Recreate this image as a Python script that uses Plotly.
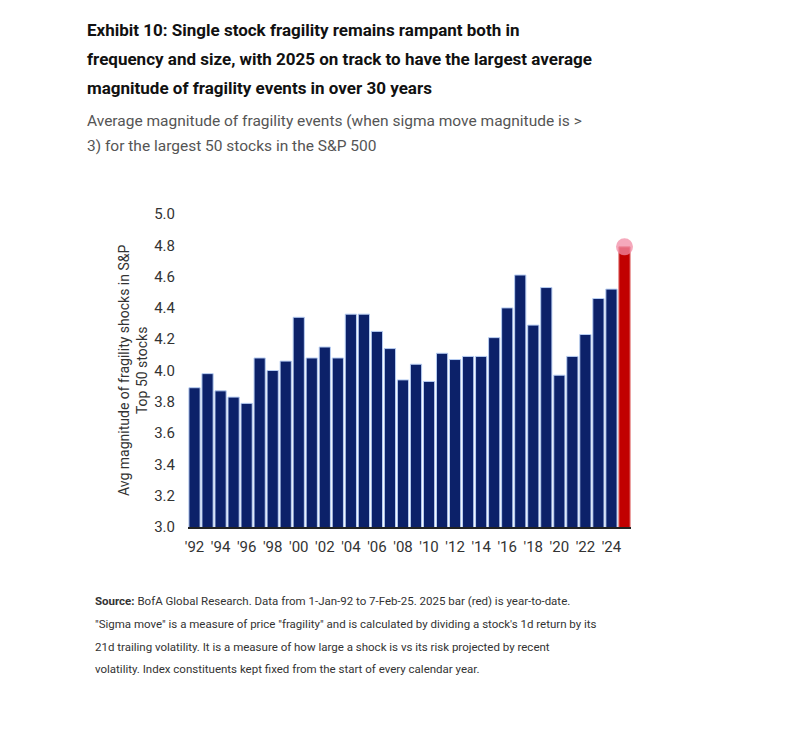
import plotly.graph_objects as go

years = [1992, 1993, 1994, 1995, 1996, 1997, 1998, 1999, 2000, 2001,
         2002, 2003, 2004, 2005, 2006, 2007, 2008, 2009, 2010, 2011,
         2012, 2013, 2014, 2015, 2016, 2017, 2018, 2019, 2020, 2021,
         2022, 2023, 2024, 2025]
avg_magnitude = [3.89, 3.98, 3.87, 3.83, 3.79, 4.08, 4.00, 4.06, 4.34, 4.08,
                 4.15, 4.08, 4.36, 4.36, 4.25, 4.14, 3.94, 4.04, 3.93, 4.11,
                 4.07, 4.09, 4.09, 4.21, 4.40, 4.61, 4.29, 4.53, 3.97, 4.09,
                 4.23, 4.46, 4.52, 4.79]
tick_years = [1992, 1994, 1996, 1998, 2000, 2002, 2004, 2006, 2008,
              2010, 2012, 2014, 2016, 2018, 2020, 2022, 2024]
tick_labels = ["'92", "'94", "'96", "'98", "'00", "'02", "'04", "'06", "'08",
               "'10", "'12", "'14", "'16", "'18", "'20", "'22", "'24"]
ytd_year = 2025

title_lines = [
    "<b>Exhibit 10: Single stock fragility remains rampant both in</b>",
    "<b>frequency and size, with 2025 on track to have the largest average</b>",
    "<b>magnitude of fragility events in over 30 years</b>",
]
subtitle_lines = [
    "Average magnitude of fragility events (when sigma move magnitude is >",
    "3) for the largest 50 stocks in the S&P 500",
]
source_lines = [
    "<b>Source:</b> BofA Global Research. Data from 1-Jan-92 to 7-Feb-25. 2025 bar (red) is year-to-date.",
    "\"Sigma move\" is a measure of price \"fragility\" and is calculated by dividing a stock's 1d return by its",
    "21d trailing volatility. It is a measure of how large a shock is vs its risk projected by recent",
    "volatility. Index constituents kept fixed from the start of every calendar year.",
]

NAVY = "#0c2169"
RED = "#c10000"
FONT = "Roboto, Arial, sans-serif"

# page has an 8px body margin; positions below are screen pixels
OFF = 8
L, R, T, B = 188, 631, 214, 527
W, H = 794, 730


def px(x, y):
    """screen pixel position -> paper coords"""
    return (x - L) / (R - L), (B - y) / (B - T)


bar_colors = [RED if y == ytd_year else NAVY for y in years]
line_colors = ["#e07070" if y == ytd_year else "#b7cdf2" for y in years]

fig = go.Figure()
fig.add_trace(go.Bar(
    x=years,
    y=avg_magnitude,
    marker=dict(color=bar_colors, line=dict(color=line_colors, width=1)),
    width=0.86,
    base=0,
))
fig.add_trace(go.Scatter(
    x=[years[-1]],
    y=[avg_magnitude[-1]],
    mode="markers",
    marker=dict(size=17, color="rgba(242,140,165,0.75)"),
    cliponaxis=False,
))

fig.update_layout(
    width=W, height=H,
    margin=dict(l=L - OFF, r=W - (R - OFF), t=T - OFF, b=H - (B - OFF)),
    paper_bgcolor="white", plot_bgcolor="white",
    showlegend=False,
    font=dict(family=FONT, color="#333333"),
    xaxis=dict(
        range=[1991.5, 2025.5],
        tickmode="array", tickvals=tick_years, ticktext=tick_labels,
        tickfont=dict(size=15, color="#333333"),
        showline=True, linecolor="#222222", linewidth=1.5,
        showgrid=False, zeroline=False, ticks="",
        ticklabelstandoff=5,
    ),
    yaxis=dict(
        range=[3.0, 5.0], dtick=0.2, tickformat=".1f",
        tickfont=dict(size=15, color="#333333"),
        showgrid=False, zeroline=False, showline=False, ticks="",
        ticklabelstandoff=12,
    ),
)


def add_line(text, x, y, size, color):
    px_x, px_y = px(x, y)
    fig.add_annotation(
        x=px_x, y=px_y, xref="paper", yref="paper",
        xanchor="left", yanchor="middle", align="left", showarrow=False,
        text=text, font=dict(size=size, color=color, family=FONT),
    )


for text, y in zip(title_lines, [30, 59, 88]):
    add_line(text, 85, y, 17, "#111111")
for text, y in zip(subtitle_lines, [121, 146]):
    add_line(text, 85, y, 15.5, "#555555")
for text, y in zip(source_lines, [601, 624, 647, 669]):
    add_line(text, 93, y, 11.5, "#333333")

# y-axis title
x, y = px(133, 371)
fig.add_annotation(
    x=x, y=y, xref="paper", yref="paper", xanchor="center", yanchor="middle",
    textangle=-90, showarrow=False,
    text="Avg magnitude of fragility shocks in S&P<br>Top 50 stocks",
    font=dict(size=14, color="#333333", family=FONT),
)

fig.write_html("out.html")
